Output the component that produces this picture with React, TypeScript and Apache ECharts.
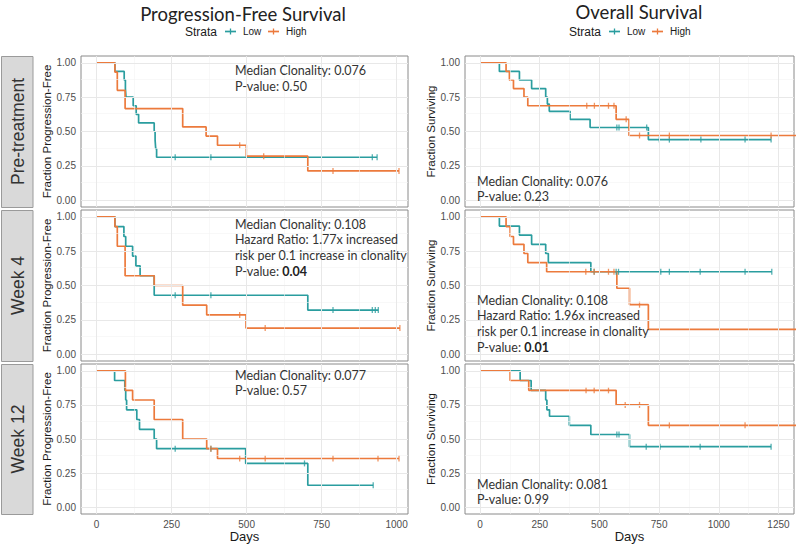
import React, { useEffect, useRef } from 'react';
import * as echarts from 'echarts';

const TEAL = '#2a9d9f';
const ORANGE = '#ec7a3c';

const columnTitles = ['Progression-Free Survival', 'Overall Survival'];
const rowLabels = ['Pre-treatment', 'Week 4', 'Week 12'];
const yAxisTitles = ['Fraction Progression-Free', 'Fraction Surviving'];
const xAxisTitle = 'Days';
const legendTitle = 'Strata';
const strataNames = ['Low', 'High'];

const pfsTicks = [0, 250, 500, 750, 1000];
const pfsMinor = [125, 375, 625, 875];
const osTicks = [0, 250, 500, 750, 1000, 1250];
const osMinor = [125, 375, 625, 875, 1125];
const yTicks = [0, 0.25, 0.5, 0.75, 1];
const yMinor = [0.125, 0.375, 0.625, 0.875];

// PFS pre-treatment
const pfsPreLowTimes = [0, 61, 92, 96, 98, 122, 132, 140, 192, 195, 197, 200, 935];
const pfsPreLowSurv = [1, 0.9375, 0.875, 0.8125, 0.75, 0.6875, 0.625, 0.5625, 0.5, 0.4375, 0.375, 0.3125, 0.3125];
const pfsPreLowCensor = [262, 381, 919, 935];
const pfsPreHighTimes = [0, 61, 69, 95, 287, 365, 403, 499, 704, 1008];
const pfsPreHighSurv = [1, 0.933, 0.8, 0.667, 0.533, 0.467, 0.4, 0.32, 0.213, 0.213];
const pfsPreHighCensor = [477, 557, 788, 1008];
const pfsPreNotes = ['Median Clonality: 0.076', 'P-value: 0.50'];

// PFS week 4
const pfsW4LowTimes = [0, 61, 91, 97, 120, 131, 145, 192, 704, 939];
const pfsW4LowSurv = [1, 0.929, 0.857, 0.786, 0.714, 0.643, 0.571, 0.429, 0.321, 0.321];
const pfsW4LowCensor = [262, 381, 788, 919, 929, 939];
const pfsW4HighTimes = [0, 61, 69, 95, 192, 287, 367, 498, 1011];
const pfsW4HighSurv = [1, 0.929, 0.786, 0.571, 0.5, 0.357, 0.286, 0.19, 0.19];
const pfsW4HighCensor = [477, 562, 1011];
const pfsW4Notes = ['Median Clonality: 0.108', 'Hazard Ratio: 1.77x increased', 'risk per 0.1 increase in clonality', 'P-value: {b|0.04}'];

// PFS week 12
const pfsW12LowTimes = [0, 60, 94, 97, 100, 134, 143, 192, 200, 497, 704, 922];
const pfsW12LowSurv = [1, 0.929, 0.857, 0.786, 0.714, 0.643, 0.571, 0.5, 0.429, 0.321, 0.161, 0.161];
const pfsW12LowCensor = [262, 381, 693, 922];
const pfsW12HighTimes = [0, 96, 120, 192, 287, 367, 403, 1008];
const pfsW12HighSurv = [1, 0.857, 0.786, 0.643, 0.5, 0.429, 0.357, 0.357];
const pfsW12HighCensor = [381, 477, 562, 788, 938, 1008];
const pfsW12Notes = ['Median Clonality: 0.077', 'P-value: 0.57'];

// OS pre-treatment
const osPreLowTimes = [0, 81, 165, 216, 275, 282, 290, 377, 461, 705, 1219];
const osPreLowSurv = [1, 0.9375, 0.875, 0.8125, 0.75, 0.7, 0.647, 0.588, 0.529, 0.441, 0.441];
const osPreLowCensor = [573, 582, 698, 751, 793, 925, 1110, 1219];
const osPreHighTimes = [0, 109, 123, 140, 184, 200, 570, 624, 1330];
const osPreHighSurv = [1, 0.9375, 0.875, 0.8125, 0.75, 0.6875, 0.589, 0.471, 0.471];
const osPreHighCensor = [447, 479, 538, 561, 612, 668, 793, 1219];
const osPreNotes = ['Median Clonality: 0.076', 'P-value: 0.23'];

// OS week 4
const osW4LowTimes = [0, 81, 165, 216, 275, 286, 464, 1222];
const osW4LowSurv = [1, 0.933, 0.867, 0.8, 0.733, 0.667, 0.6, 0.6];
const osW4LowCensor = [478, 570, 580, 757, 793, 922, 1110, 1222];
const osW4HighTimes = [0, 109, 126, 140, 184, 200, 279, 573, 626, 705, 1330];
const osW4HighSurv = [1, 0.929, 0.857, 0.8, 0.733, 0.667, 0.6, 0.48, 0.36, 0.18, 0.18];
const osW4HighCensor = [443, 478, 538, 561, 668];
const osW4Notes = ['Median Clonality: 0.108', 'Hazard Ratio: 1.96x increased', 'risk per 0.1 increase in clonality', 'P-value: {b|0.01}'];

// OS week 12
const osW12LowTimes = [0, 168, 214, 275, 280, 291, 374, 464, 626, 1219];
const osW12LowSurv = [1, 0.929, 0.857, 0.786, 0.714, 0.667, 0.6, 0.533, 0.444, 0.444];
const osW12LowCensor = [573, 582, 696, 754, 922, 1219];
const osW12HighTimes = [0, 126, 204, 570, 705, 1330];
const osW12HighSurv = [1, 0.929, 0.857, 0.75, 0.6, 0.6];
const osW12HighCensor = [444, 478, 538, 608, 668, 793, 1110];
const osW12Notes = ['Median Clonality: 0.081', 'P-value: 0.99'];

type Curve = { t: number[]; s: number[]; c: number[] };
type Panel = { col: number; row: number; low: Curve; high: Curve; notes: string[] };

const panels: Panel[] = [
  { col: 0, row: 0, low: { t: pfsPreLowTimes, s: pfsPreLowSurv, c: pfsPreLowCensor }, high: { t: pfsPreHighTimes, s: pfsPreHighSurv, c: pfsPreHighCensor }, notes: pfsPreNotes },
  { col: 0, row: 1, low: { t: pfsW4LowTimes, s: pfsW4LowSurv, c: pfsW4LowCensor }, high: { t: pfsW4HighTimes, s: pfsW4HighSurv, c: pfsW4HighCensor }, notes: pfsW4Notes },
  { col: 0, row: 2, low: { t: pfsW12LowTimes, s: pfsW12LowSurv, c: pfsW12LowCensor }, high: { t: pfsW12HighTimes, s: pfsW12HighSurv, c: pfsW12HighCensor }, notes: pfsW12Notes },
  { col: 1, row: 0, low: { t: osPreLowTimes, s: osPreLowSurv, c: osPreLowCensor }, high: { t: osPreHighTimes, s: osPreHighSurv, c: osPreHighCensor }, notes: osPreNotes },
  { col: 1, row: 1, low: { t: osW4LowTimes, s: osW4LowSurv, c: osW4LowCensor }, high: { t: osW4HighTimes, s: osW4HighSurv, c: osW4HighCensor }, notes: osW4Notes },
  { col: 1, row: 2, low: { t: osW12LowTimes, s: osW12LowSurv, c: osW12LowCensor }, high: { t: osW12HighTimes, s: osW12HighSurv, c: osW12HighCensor }, notes: osW12Notes },
];

function stepAt(times: number[], surv: number[], t: number) {
  let v = surv[0];
  for (let i = 0; i < times.length; i++) if (times[i] <= t) v = surv[i];
  return v;
}

const colLeft = [81, 465];
const colWidth = [327, 329];
const rowTop = [56, 210, 364];
const rowHeight = [151, 151, 150];
const xRange = [[-52, 1038], [-63, 1315]];
const noteX = [235, 477];
const noteY = [[70.7, 224, 375], [181, 300, 484]];
const NOTE_LH = 15.8;

const AXIS_FONT = 'Liberation Sans, Arial, sans-serif';
const NOTE_FONT = 'Lato, sans-serif';

export default function App() {
  const ref = useRef<HTMLDivElement>(null);
  useEffect(() => {
    if (!ref.current) return;
    const chart = echarts.init(ref.current, undefined, { renderer: 'svg' });
    const grids: any[] = [];
    const xAxes: any[] = [];
    const yAxes: any[] = [];
    const series: any[] = [];
    const graphics: any[] = [];

    panels.forEach((p, i) => {
      const isBottom = p.row === 2;
      grids.push({
        left: colLeft[p.col], top: rowTop[p.row], width: colWidth[p.col], height: rowHeight[p.row],
        show: true, borderColor: '#8a8a8a', borderWidth: 1, backgroundColor: '#fff', containLabel: false,
      });
      const ticks = p.col === 0 ? pfsTicks : osTicks;
      const minor = p.col === 0 ? pfsMinor : osMinor;
      xAxes.push({
        gridIndex: i, type: 'value', min: xRange[p.col][0], max: xRange[p.col][1],
        axisLine: { show: false }, splitLine: { show: false },
        axisTick: { show: true, length: 3, lineStyle: { color: '#444' }, customValues: ticks },
        axisLabel: { show: isBottom, customValues: ticks, color: '#4d4d4d', fontSize: 10, margin: 5, fontFamily: AXIS_FONT, formatter: (v: number) => String(v) },
        name: isBottom ? xAxisTitle : '', nameLocation: 'middle', nameGap: 16,
        nameTextStyle: { fontSize: 13, color: '#1a1a1a', fontFamily: AXIS_FONT },
      });
      yAxes.push({
        gridIndex: i, type: 'value', min: -0.05, max: 1.05,
        axisLine: { show: false }, splitLine: { show: false },
        axisTick: { show: true, length: 3, lineStyle: { color: '#444' }, customValues: yTicks },
        axisLabel: { customValues: yTicks, color: '#4d4d4d', fontSize: 10, margin: 5, fontFamily: AXIS_FONT, formatter: (v: number) => v.toFixed(2) },
        name: yAxisTitles[p.col], nameLocation: 'middle', nameGap: 27,
        nameTextStyle: { fontSize: 11.5, color: '#1a1a1a', fontFamily: AXIS_FONT },
      });
      const minorStyle = { color: '#f3f3f3', width: 0.6, type: 'solid' };
      const majorStyle = { color: '#e8e8e8', width: 1, type: 'solid' };
      series.push({
        type: 'line', xAxisIndex: i, yAxisIndex: i, data: [], silent: true, z: 1,
        markLine: {
          silent: true, symbol: ['none', 'none'], label: { show: false }, animation: false,
          emphasis: { disabled: true },
          data: [
            ...minor.map((v) => ({ xAxis: v, lineStyle: minorStyle })),
            ...yMinor.map((v) => ({ yAxis: v, lineStyle: minorStyle })),
            ...ticks.map((v) => ({ xAxis: v, lineStyle: majorStyle })),
            ...yTicks.map((v) => ({ yAxis: v, lineStyle: majorStyle })),
          ],
        },
      });
      [[p.low, TEAL], [p.high, ORANGE]].forEach(([cv, color]: any) => {
        series.push({
          type: 'line', xAxisIndex: i, yAxisIndex: i, step: 'end', symbol: 'none', showSymbol: false,
          data: cv.t.map((t: number, k: number) => [t, cv.s[k]]),
          lineStyle: { color, width: 1.7 }, itemStyle: { color }, silent: true, z: 3, clip: true,
        });
        series.push({
          type: 'scatter', xAxisIndex: i, yAxisIndex: i, symbol: 'rect', symbolSize: [1.3, 6],
          data: cv.c.map((t: number) => [t, stepAt(cv.t, cv.s, t)]),
          itemStyle: { color }, silent: true, z: 4,
        });
      });
      p.notes.forEach((line, k) => {
        graphics.push({
          type: 'text', x: noteX[p.col], y: noteY[p.col][p.row] + k * NOTE_LH, silent: true, z: 10,
          style: {
            text: line, fill: '#333', fontSize: 12.5, fontFamily: NOTE_FONT,
            align: 'left', verticalAlign: 'middle',
            rich: { b: { fontWeight: 'bold', fontSize: 12.5, fontFamily: NOTE_FONT, fill: '#222' } },
          },
        });
      });
    });

    // strips
    rowLabels.forEach((lab, r) => {
      graphics.push({
        type: 'rect', shape: { x: 1.5, y: rowTop[r] + 0.5, width: 31.5, height: rowHeight[r] },
        style: { fill: '#d9d9d9', stroke: '#9a9a9a', lineWidth: 1 }, silent: true, z: 5,
      });
      graphics.push({
        type: 'text', x: 17.5, y: rowTop[r] + rowHeight[r] / 2, rotation: Math.PI / 2, silent: true, z: 6,
        style: { text: lab, fill: '#333', fontSize: 17.5, fontFamily: AXIS_FONT, align: 'center', verticalAlign: 'middle' },
      });
    });

    // titles
    const titleX = [243, 639];
    const titleY = [14, 12];
    columnTitles.forEach((t, c) => {
      graphics.push({
        type: 'text', x: titleX[c], y: titleY[c], silent: true,
        style: { text: t, fill: '#222', fontSize: 18.5, fontFamily: NOTE_FONT, align: 'center', verticalAlign: 'middle' },
      });
    });

    // legends
    const legendSpec = [
      { strataRight: 217, keys: [225, 268], labels: [243, 286] },
      { strataRight: 601, keys: [609, 652], labels: [627, 670] },
    ];
    const LY = 31.5;
    legendSpec.forEach((lg) => {
      graphics.push({
        type: 'text', x: lg.strataRight, y: LY, silent: true,
        style: { text: legendTitle, fill: '#1a1a1a', fontSize: 12, fontFamily: AXIS_FONT, align: 'right', verticalAlign: 'middle' },
      });
      [TEAL, ORANGE].forEach((col, k) => {
        graphics.push({ type: 'line', silent: true, shape: { x1: lg.keys[k], y1: LY, x2: lg.keys[k] + 11, y2: LY }, style: { stroke: col, lineWidth: 1.7 } });
        graphics.push({ type: 'line', silent: true, shape: { x1: lg.keys[k] + 5.5, y1: LY - 3, x2: lg.keys[k] + 5.5, y2: LY + 3 }, style: { stroke: col, lineWidth: 1.3 } });
        graphics.push({
          type: 'text', x: lg.labels[k], y: LY, silent: true,
          style: { text: strataNames[k], fill: '#1a1a1a', fontSize: 10, fontFamily: AXIS_FONT, align: 'left', verticalAlign: 'middle' },
        });
      });
    });

    chart.setOption({
      animation: false,
      backgroundColor: '#fff',
      grid: grids,
      xAxis: xAxes,
      yAxis: yAxes,
      series,
      graphic: { elements: graphics },
    });
    return () => chart.dispose();
  }, []);
  return <div ref={ref} style={{ position: 'fixed', left: 0, top: 0, width: 800, height: 546 }} />;
}
